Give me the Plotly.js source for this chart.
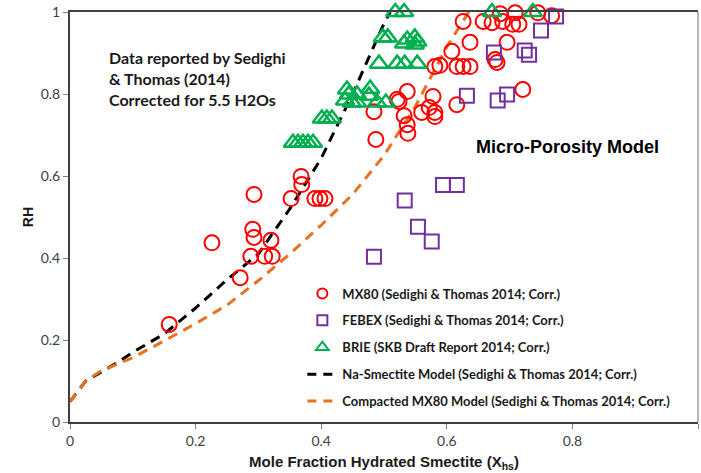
<!DOCTYPE html>
<html>
<head>
<meta charset="utf-8">
<script src="https://cdn.plot.ly/plotly-3.0.1.min.js"></script>
<style>html,body{margin:0;padding:0;background:#fff}#chart{width:701px;height:473px}</style>
</head>
<body>
<div id="chart"></div>
<script>
// MX80 (circles)
var mx80X = [0.158,0.226,0.271,0.288,0.310,0.322,0.291,0.293,0.320,0.293,0.352,0.368,0.369,0.390,0.398,0.406,
  0.487,0.484,0.521,0.524,0.537,0.532,0.537,0.538,0.560,0.578,0.581,0.581,0.572,0.581,0.589,0.608,0.616,0.626,0.637,
  0.616,0.626,0.637,0.658,0.672,0.685,0.689,0.709,0.705,0.715,0.696,0.677,0.680,0.721,0.745,0.767];
var mx80Y = [0.238,0.437,0.352,0.404,0.404,0.404,0.470,0.450,0.443,0.555,0.545,0.599,0.579,0.545,0.545,0.545,
  0.689,0.757,0.787,0.782,0.806,0.747,0.725,0.704,0.755,0.794,0.755,0.745,0.767,0.867,0.870,0.904,0.867,0.867,0.867,
  0.774,0.977,0.926,0.977,0.974,0.996,0.977,0.998,0.970,0.970,0.926,0.884,0.877,0.811,0.998,0.991];
// FEBEX (squares)
var febexX = [0.484,0.533,0.554,0.576,0.594,0.616,0.632,0.675,0.681,0.696,0.724,0.731,0.750,0.774];
var febexY = [0.403,0.540,0.476,0.440,0.578,0.578,0.796,0.901,0.784,0.799,0.906,0.896,0.955,0.989];
// BRIE (triangles)
var brieX = [0.355,0.363,0.371,0.379,0.387,0.401,0.409,0.417,0.441,0.444,0.457,0.478,0.476,0.438,0.449,0.457,0.489,0.503,
  0.492,0.521,0.533,0.553,0.498,0.506,0.532,0.537,0.549,0.553,0.549,0.518,0.532,0.672,0.737];
var brieY = [0.681,0.681,0.681,0.681,0.681,0.740,0.740,0.740,0.811,0.799,0.799,0.813,0.796,0.784,0.779,0.779,0.779,0.779,
  0.874,0.874,0.874,0.874,0.938,0.938,0.923,0.933,0.938,0.928,0.921,1.0,1.0,1.0,1.0];
// Na-Smectite model
var naX = [0,0.025,0.07,0.1,0.15,0.2,0.25,0.3,0.35,0.4,0.45,0.5,0.51];
var naY = [0.05,0.10,0.14,0.17,0.215,0.278,0.347,0.41,0.52,0.643,0.80,0.972,1.0];
// Compacted MX80 model
var cmX = [0,0.025,0.05,0.1,0.15,0.2,0.25,0.3,0.35,0.4,0.45,0.5,0.55,0.6,0.635];
var cmY = [0.05,0.10,0.125,0.157,0.198,0.24,0.285,0.345,0.41,0.48,0.555,0.65,0.77,0.915,1.0];

var xTicks = [0,0.2,0.4,0.6,0.8,1];
var xTickText = ['0','0.2','0.4','0.6','0.8','1'];
var yTicks = [0,0.2,0.4,0.6,0.8,1];
var yTickText = ['0','0.2','0.4','0.6','0.8','1'];

var names = ['MX80 (Sedighi &amp; Thomas 2014; Corr.)','FEBEX (Sedighi &amp; Thomas 2014; Corr.)',
  'BRIE (SKB Draft Report 2014; Corr.)','Na-Smectite Model (Sedighi &amp; Thomas 2014; Corr.)',
  'Compacted MX80 Model (Sedighi &amp; Thomas 2014; Corr.)'];

var naLine = {color:'#000000', width:3, dash:'10px,7px'};
var cmLine = {color:'#e8711e', width:3, dash:'10px,7px'};
var mxMk = {symbol:'circle-open', size:15, color:'#ff0000', line:{width:2, color:'#ff0000'}};
var feMk = {symbol:'square-open', size:14, color:'#7030a0', line:{width:2, color:'#7030a0'}};
var brMk = {symbol:'triangle-up-open', size:16, color:'#00b050', line:{width:2.5, color:'#00b050'}};

var traces = [
  {x: naX, y: naY, mode:'lines', showlegend:false, line:naLine},
  {x: cmX, y: cmY, mode:'lines', showlegend:false, line:cmLine},
  {x: mx80X, y: mx80Y, mode:'markers', showlegend:false, marker:mxMk},
  {x: febexX, y: febexY, mode:'markers', showlegend:false, marker:feMk},
  {x: brieX, y: brieY, mode:'markers', showlegend:false, marker:brMk},
  // legend entries (smaller symbols, as in the reference legend)
  {x:[null], y:[null], mode:'markers', name:names[0], legendgroup:'a', legendrank:1,
   marker:{symbol:'circle-open', size:10, color:'#ff0000', line:{width:2, color:'#ff0000'}}},
  {x:[null], y:[null], mode:'markers', name:names[1], legendgroup:'b', legendrank:2,
   marker:{symbol:'square-open', size:10, color:'#7030a0', line:{width:2, color:'#7030a0'}}},
  {x:[null], y:[null], mode:'markers', name:names[2], legendgroup:'c', legendrank:3,
   marker:{symbol:'triangle-up-open', size:11, color:'#00b050', line:{width:2, color:'#00b050'}}},
  {x:[null], y:[null], mode:'lines', name:names[3], legendgroup:'d', legendrank:4, line:{color:'#000000', width:3, dash:'9px,7px'}},
  {x:[null], y:[null], mode:'lines', name:names[4], legendgroup:'e', legendrank:5, line:{color:'#e8711e', width:3, dash:'9px,7px'}}
];
traces.forEach(function(t){ t.cliponaxis = false; });

var tickFont = {family:'Lato, "Noto Sans", sans-serif', size:14, color:'#404040'};
var layout = {
  width:701, height:473,
  margin:{l:70, r:3, t:12, b:51},
  paper_bgcolor:'#ffffff', plot_bgcolor:'#ffffff',
  showlegend:true,
  legend:{x:0.37, y:0.35, xanchor:'left', yanchor:'top', bgcolor:'rgba(0,0,0,0)',
    font:{family:'Lato, sans-serif', size:13, color:'#1a1a1a', weight:'bold'},
    traceorder:'grouped', tracegroupgap:7, itemwidth:30},
  xaxis:{range:[0,1], tickvals:xTicks, ticktext:xTickText, showgrid:false, zeroline:false,
    showline:true, linecolor:'#404040', linewidth:2, mirror:true, ticks:'outside', ticklen:5, tickcolor:'#808080',
    tickfont:tickFont,
    title:{text:'<b>Mole Fraction Hydrated Smectite (X<sub>hs</sub>)</b>', font:{family:'Liberation Sans, Arial, sans-serif', size:15, color:'#1a1a1a'}, standoff:9}},
  yaxis:{range:[0,1], tickvals:yTicks, ticktext:yTickText, showgrid:false, zeroline:false,
    showline:true, linecolor:'#404040', linewidth:2, ticks:'outside', ticklen:5, tickcolor:'#808080',
    tickfont:tickFont,
    title:{text:'<b>RH</b>', font:{family:'Liberation Sans, Arial, sans-serif', size:14, color:'#1a1a1a'}, standoff:4}},
  shapes:[{type:'line', xref:'paper', yref:'paper', x0:1, x1:1, y0:0, y1:1, line:{color:'#a0a0a0', width:1.5}}],
  annotations:[
    {xref:'paper', yref:'paper', x:(107-70)/628, y:(422.5-46)/410, xanchor:'left', yanchor:'top', align:'left', showarrow:false,
     text:'<b>Data reported by Sedighi<br>&amp; Thomas (2014)<br>Corrected for 5.5 H2Os</b>',
     font:{family:'Lato, sans-serif', size:16, color:'#1a1a1a'}},
    {xref:'paper', yref:'paper', x:(474-70)/628, y:(422.5-148)/410, xanchor:'left', yanchor:'middle', showarrow:false,
     text:'<b>Micro-Porosity Model</b>', font:{family:'Liberation Sans, Arial, sans-serif', size:18, color:'#000000'}}
  ]
};
Plotly.newPlot('chart', traces, layout, {displayModeBar:false, staticPlot:true});
</script>
</body>
</html>
